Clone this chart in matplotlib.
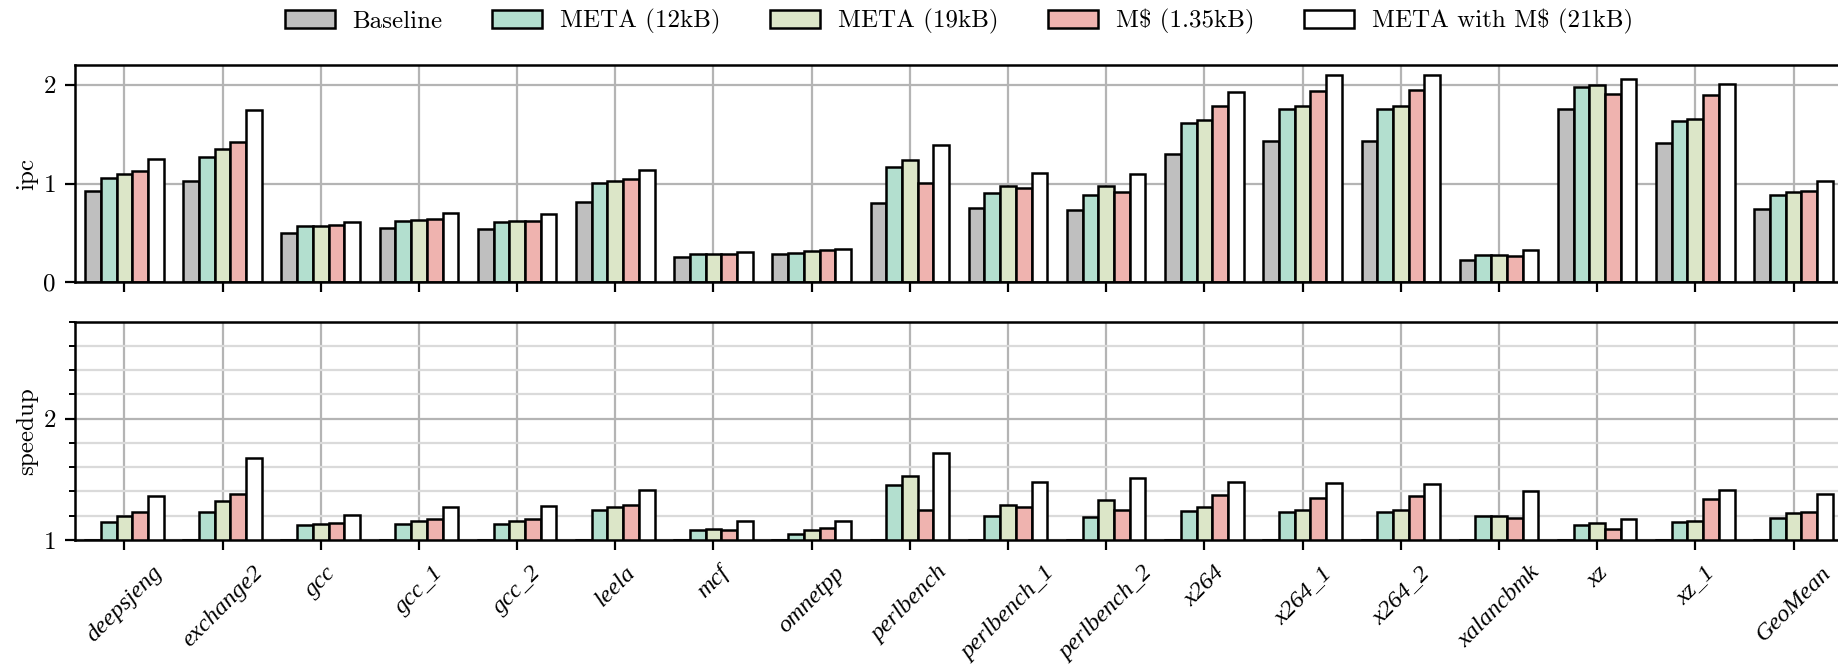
import matplotlib
matplotlib.use("Agg")
import matplotlib.pyplot as plt
import numpy as np
from matplotlib.ticker import MultipleLocator

benchmarks = ['deepsjeng', 'exchange2', 'gcc', 'gcc_1', 'gcc_2', 'leela', 'mcf',
              'omnetpp', 'perlbench', 'perlbench_1', 'perlbench_2', 'x264',
              'x264_1', 'x264_2', 'xalancbmk', 'xz', 'xz_1', 'GeoMean']

series_names = ['Baseline', 'META (12kB)', 'META (19kB)', 'M\\$ (1.35kB)',
                'META with M\\$ (21kB)']
series_colors = ['#bfbfbf', '#b3dfcf', '#dce6c8', '#efb3af', '#ffffff']

# instructions per cycle
ipc_baseline = [0.92, 1.03, 0.50, 0.55, 0.54, 0.81, 0.26, 0.29, 0.80, 0.75,
                0.73, 1.30, 1.43, 1.43, 0.23, 1.75, 1.41, 0.74]
ipc_meta12 = [1.06, 1.27, 0.57, 0.62, 0.61, 1.01, 0.29, 0.30, 1.17, 0.90,
              0.88, 1.61, 1.75, 1.75, 0.28, 1.98, 1.63, 0.88]
ipc_meta19 = [1.10, 1.35, 0.57, 0.63, 0.62, 1.03, 0.29, 0.32, 1.24, 0.97,
              0.97, 1.64, 1.78, 1.78, 0.28, 2.00, 1.65, 0.91]
ipc_mcache = [1.13, 1.42, 0.58, 0.64, 0.62, 1.05, 0.29, 0.33, 1.01, 0.95,
              0.91, 1.78, 1.94, 1.95, 0.27, 1.91, 1.90, 0.92]
ipc_combined = [1.25, 1.74, 0.61, 0.70, 0.69, 1.14, 0.31, 0.34, 1.39, 1.11,
                1.10, 1.93, 2.10, 2.10, 0.33, 2.06, 2.01, 1.03]

# speedup over the baseline
sp_baseline = [1.00] * len(benchmarks)
sp_meta12 = [1.15, 1.23, 1.12, 1.13, 1.13, 1.25, 1.08, 1.05, 1.45, 1.20,
             1.19, 1.24, 1.23, 1.23, 1.20, 1.12, 1.15, 1.18]
sp_meta19 = [1.20, 1.32, 1.13, 1.16, 1.16, 1.27, 1.09, 1.08, 1.53, 1.29,
             1.33, 1.27, 1.25, 1.25, 1.20, 1.14, 1.16, 1.22]
sp_mcache = [1.23, 1.38, 1.14, 1.17, 1.17, 1.29, 1.08, 1.10, 1.25, 1.27,
             1.25, 1.37, 1.35, 1.36, 1.18, 1.09, 1.34, 1.23]
sp_combined = [1.36, 1.68, 1.21, 1.27, 1.28, 1.41, 1.16, 1.16, 1.72, 1.48,
               1.51, 1.48, 1.47, 1.46, 1.40, 1.17, 1.41, 1.38]

ipc_series = [ipc_baseline, ipc_meta12, ipc_meta19, ipc_mcache, ipc_combined]
sp_series = [sp_baseline, sp_meta12, sp_meta19, sp_mcache, sp_combined]

plt.rcParams['font.family'] = ['cmr10', 'DejaVu Serif']
plt.rcParams['axes.formatter.use_mathtext'] = True
plt.rcParams['font.size'] = 9
plt.rcParams['axes.linewidth'] = 0.9

W, H = 1838, 664
fig = plt.figure(figsize=(W / 200, H / 200), dpi=200)


def frac_rect(left, top, right, bottom):
    return [left / W, 1 - bottom / H, (right - left) / W, (bottom - top) / H]


ax_ipc = fig.add_axes(frac_rect(75.3, 65, 1842.6, 282.3))
ax_sp = fig.add_axes(frac_rect(75.3, 321.7, 1842.6, 540), sharex=ax_ipc)

x = np.arange(len(benchmarks))
bar_w = 0.16
offsets = (np.arange(len(series_names)) - 2) * bar_w

for ax, data in ((ax_ipc, ipc_series), (ax_sp, sp_series)):
    ax.set_axisbelow(True)
    for k, vals in enumerate(data):
        ax.bar(x + offsets[k], vals, width=bar_w, color=series_colors[k],
               edgecolor='black', linewidth=0.9, label=series_names[k])
    ax.grid(True, which='major', color='#b4b4b4', linewidth=0.8)
    ax.tick_params(axis='both', which='major', length=3.5, width=0.8,
                   labelsize=9)

ax_ipc.set_xlim(-0.5, len(benchmarks) - 0.5)
ax_ipc.set_ylim(0, 2.2)
ax_ipc.set_yticks([0, 1, 2])
ax_ipc.set_ylabel('ipc', fontsize=9, labelpad=1.5)
ax_ipc.tick_params(axis='x', labelbottom=False)

ax_sp.set_ylim(1, 2.8)
ax_sp.set_yticks([1, 2])
ax_sp.yaxis.set_minor_locator(MultipleLocator(0.2))
ax_sp.tick_params(axis='y', which='minor', length=2, width=0.7)
ax_sp.grid(True, axis='y', which='minor', color='#dadada', linewidth=0.8)
ax_sp.set_ylabel('speedup', fontsize=9, labelpad=1.5)
ax_sp.set_xticks(x)
ax_sp.set_xticklabels(benchmarks, rotation=45, ha='center', va='top',
                      fontdict={'family': 'Liberation Serif', 'style': 'italic',
                                'size': 8.8})
ax_sp.tick_params(axis='x', which='major', pad=4.5)

ax_ipc.legend(loc='center', bbox_to_anchor=(0.5, 1.2), ncol=5, frameon=False,
              fontsize=9, handlelength=2.0, columnspacing=2.0,
              handletextpad=0.7)

fig.align_ylabels([ax_ipc, ax_sp])
fig.savefig('out.png', dpi=200)
